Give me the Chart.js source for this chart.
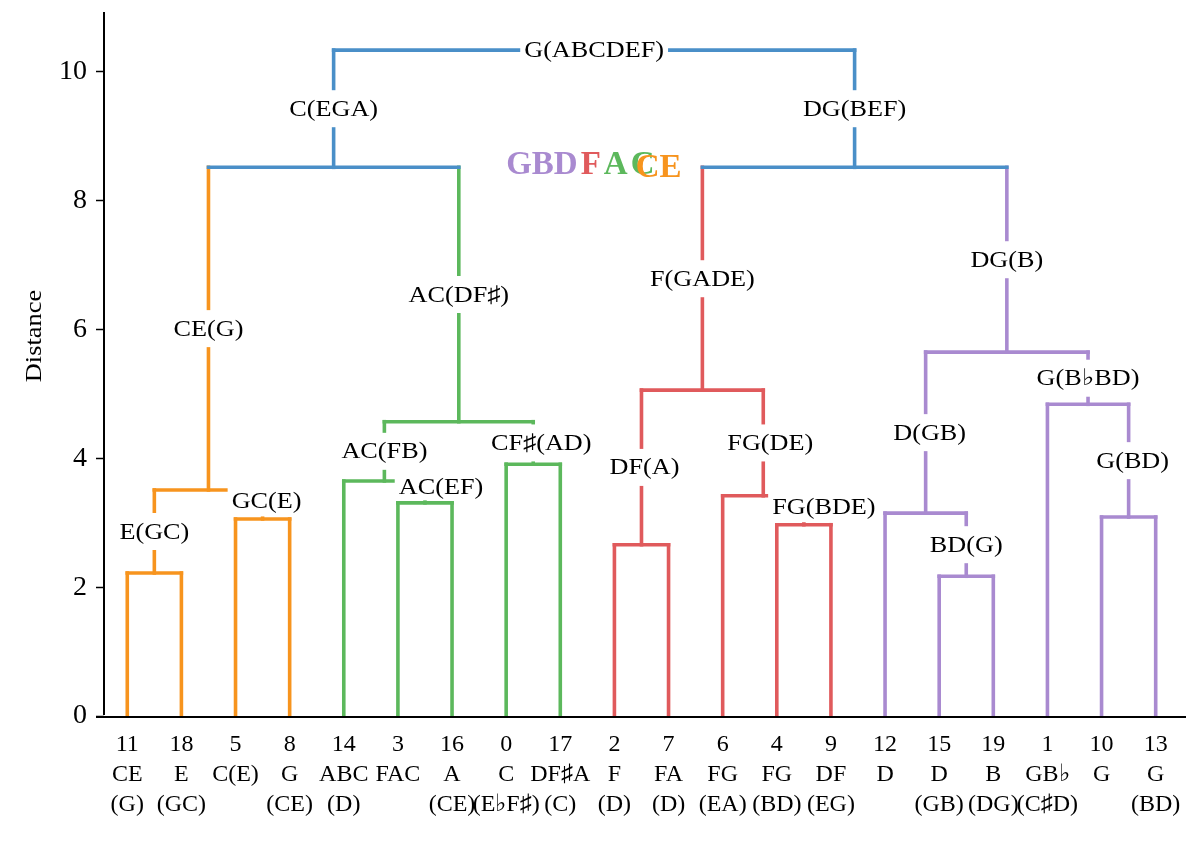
<!DOCTYPE html>
<html><head><meta charset="utf-8">
<script src="https://cdn.jsdelivr.net/npm/chart.js@4.4.1/dist/chart.umd.min.js"></script>
<style>html,body{margin:0;padding:0;background:#fff}#wrap{width:1200px;height:849px;position:relative}</style>
</head><body><div id="wrap"><canvas id="c"></canvas></div>
<script>
// Leaves in dendrogram order
const leafIds   = [11,18,5,8,14,3,16,0,17,2,7,6,4,9,12,15,19,1,10,13];
const leafNames = ["CE","E","C(E)","G","ABC","FAC","A","C","DF♯A","F","FA","FG","FG","DF","D","D","B","GB♭","G","G"];
const leafSets  = ["(G)","(GC)","","(CE)","(D)","","(CE)","(E♭F♯)","(C)","(D)","(D)","(EA)","(BD)","(EG)","","(GB)","(DG)","(C♯D)","","(BD)"];
// Merges: children (0-19 leaf positions, 20+ = merge k as 20+k)
const mergeA  = [0,2,20,5,4,7,24,22,9,12,11,28,15,14,18,17,33,31,27];
const mergeB  = [1,3,21,6,23,8,25,26,10,13,29,30,16,32,19,34,35,36,37];
const mergeH  = [2.22,3.06,3.51,3.31,3.65,3.91,4.57,8.52,2.66,2.97,3.42,5.06,2.17,3.15,3.09,4.84,5.65,8.52,10.34];
const mergeLabels = ["E(GC)","GC(E)","CE(G)","AC(EF)","AC(FB)","CF♯(AD)","AC(DF♯)","C(EGA)","DF(A)","FG(BDE)","FG(DE)","F(GADE)","BD(G)","D(GB)","G(BD)","G(B♭BD)","DG(B)","DG(BEF)","G(ABCDEF)"];
const mergeGroup  = ["orange","orange","orange","green","green","green","green","blue","red","red","red","red","purple","purple","purple","purple","purple","blue","blue"];
const yTicks = [0,2,4,6,8,10];
const titleParts  = ["GBD","F","A","C"];
const titleColors = ["purple","red","green","green"];
const titleOverlay = "CE";

const COLORS = {orange:"#f7941e", green:"#5cb85c", blue:"#4a8fc8", red:"#e05a5c", purple:"#a98ad0"};
const SERIF = "'Liberation Serif','Times New Roman',serif";
const STRETCH = 1.14;
const PX_PER_UNIT = 64.4;
const AXIS_TOP_VALUE = 10.93;
// small horizontal label nudges (pixels) used in the reference to avoid crowding
const LABEL_NUDGE = {"GC(E)":4, "AC(EF)":16, "CF♯(AD)":8, "FG(BDE)":20, "FG(DE)":7, "DF(A)":3, "D(GB)":4, "G(BD)":4};

// build tree geometry in data units
const nLeaf = leafIds.length;
const nx = [], nh = [], parent = [], ncol = [];
for (let i = 0; i < nLeaf; i++) { nx[i] = i; nh[i] = 0; }
mergeA.forEach((a, k) => {
  const id = nLeaf + k, b = mergeB[k];
  nx[id] = (nx[a] + nx[b]) / 2; nh[id] = mergeH[k];
  parent[a] = id; parent[b] = id;
  ncol[id] = COLORS[mergeGroup[k]];
});
for (let i = 0; i < nLeaf; i++) ncol[i] = ncol[parent[i]];
const rootId = nLeaf + mergeA.length - 1;

const datasets = [];
const seg = (p, q, col) => datasets.push({data:[p,q], borderColor:col, borderWidth:3.6, borderCapStyle:'square',
  showLine:true, pointRadius:0, pointHoverRadius:0, fill:false, clip:false});
mergeA.forEach((a, k) => {
  const id = nLeaf + k, b = mergeB[k];
  seg({x:nx[a], y:nh[id]}, {x:nx[b], y:nh[id]}, ncol[id]);
});
for (let id = 0; id < rootId; id++) {
  seg({x:nx[id], y:nh[id]}, {x:nx[id], y:nh[parent[id]]}, ncol[id]);
}

function stretchedText(ctx, txt, x, y, sx) {
  ctx.save(); ctx.translate(x, y); ctx.scale(sx, 1); ctx.fillText(txt, 0, 0); ctx.restore();
}

let rescaled = false;
const labelPlugin = {
  id:'labels',
  afterLayout(chart) {
    if (rescaled) return;
    rescaled = true;
    const a = chart.chartArea;
    chart.options.scales.y.max = (a.bottom - a.top) / PX_PER_UNIT;
    chart.update();
  },
  afterDatasetsDraw(chart) {
    const ctx = chart.ctx, xs = chart.scales.x, ys = chart.scales.y;
    ctx.save();
    ctx.font = "23px " + SERIF;
    ctx.textAlign = 'center'; ctx.textBaseline = 'middle';
    mergeLabels.forEach((lab, k) => {
      const id = nLeaf + k;
      const px = xs.getPixelForValue(nx[id]) + (LABEL_NUDGE[lab] || 0);
      const w = ctx.measureText(lab).width * STRETCH;
      let top, bottom;
      if (id === rootId) {
        const py = ys.getPixelForValue(nh[id]);
        top = py - 14; bottom = py + 14;
      } else {
        const yn = ys.getPixelForValue(nh[id]), yp = ys.getPixelForValue(nh[parent[id]]);
        const mid = (yn + yp) / 2;
        top = mid - 18.5; bottom = Math.min(mid + 18.5, yn - 2.5);
      }
      ctx.fillStyle = '#fff';
      ctx.fillRect(px - w/2 - 4, top, w + 8, bottom - top);
      ctx.fillStyle = '#000';
      stretchedText(ctx, lab, px, (top + bottom) / 2 + 1, STRETCH);
    });
    // coloured letters annotation
    ctx.font = "bold 33px " + SERIF;
    ctx.textAlign = 'left'; ctx.textBaseline = 'alphabetic';
    let x0 = xs.getPixelForValue(7.0);
    const base = ys.getPixelForValue(8.42);
    let lastX = x0;
    titleParts.forEach((t, i) => {
      ctx.fillStyle = COLORS[titleColors[i]];
      ctx.fillText(t, x0, base);
      lastX = x0;
      x0 += ctx.measureText(t).width + 3;
    });
    ctx.fillStyle = COLORS.orange;
    ctx.fillText(titleOverlay, lastX + 5, base + 3);
    ctx.restore();
  },
  afterDraw(chart) {
    const ctx = chart.ctx, a = chart.chartArea, ys = chart.scales.y;
    ctx.save();
    ctx.strokeStyle = '#000'; ctx.lineWidth = 2;
    // x axis line (extends slightly left of the y axis)
    ctx.beginPath(); ctx.moveTo(a.left - 8, a.bottom + 1); ctx.lineTo(a.right, a.bottom + 1); ctx.stroke();
    // y axis line
    ctx.beginPath(); ctx.moveTo(a.left, ys.getPixelForValue(AXIS_TOP_VALUE)); ctx.lineTo(a.left, a.bottom - 1); ctx.stroke();
    // y axis title
    ctx.fillStyle = '#000';
    ctx.font = "23px " + SERIF;
    ctx.textAlign = 'center'; ctx.textBaseline = 'middle';
    ctx.translate(35, ys.getPixelForValue(5.9));
    ctx.rotate(-Math.PI / 2);
    ctx.scale(1.15, 1);
    ctx.fillText('Distance', 0, 0);
    ctx.restore();
  }
};

new Chart(document.getElementById('c'), {
  type:'scatter',
  data:{datasets},
  options:{
    responsive:true, maintainAspectRatio:false, animation:false,
    layout:{padding:{left:0, top:0, right:14, bottom:0}},
    plugins:{legend:{display:false}, tooltip:{enabled:false}},
    events:[],
    scales:{
      x:{type:'linear', min:-0.43, max:19.56,
        grid:{display:false, drawTicks:false}, border:{display:false},
        afterBuildTicks(s){ s.ticks = leafIds.map((_, i) => ({value:i})); },
        afterFit(s){ s.height = 133; },
        ticks:{autoSkip:false, maxRotation:0, padding:14, color:'#000',
          font:{family:SERIF, size:24, lineHeight:1.25},
          callback(v){ const i = Math.round(v); return [String(leafIds[i]), leafNames[i], leafSets[i] || ' ']; }}
      },
      y:{type:'linear', min:0, max:10.93,
        afterBuildTicks(s){ s.ticks = yTicks.map(v => ({value:v})); },
        afterFit(s){ s.width = 104; },
        grid:{drawOnChartArea:false, tickLength:8, color:'#000', tickWidth:1.5},
        border:{display:false},
        ticks:{color:'#000', padding:9, font:{family:SERIF, size:28}}
      }
    }
  },
  plugins:[labelPlugin]
});
</script>
</body></html>
